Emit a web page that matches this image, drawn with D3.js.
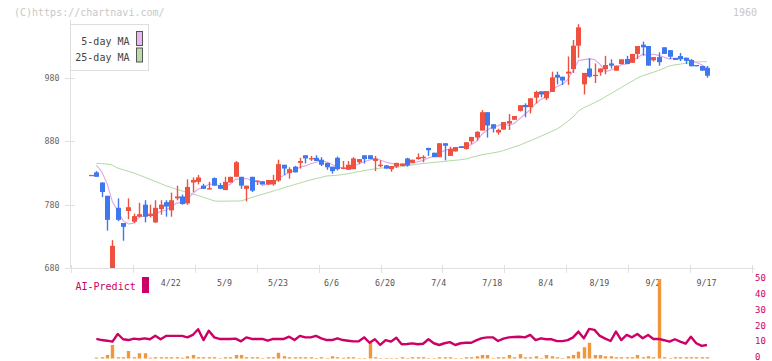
<!DOCTYPE html>
<html><head><meta charset="utf-8">
<script src="https://cdn.jsdelivr.net/npm/d3@7"></script>
<style>
body{margin:0;background:#fff;}
svg{display:block;}
text{font-family:"DejaVu Sans Mono",monospace;}
</style>
</head><body>
<svg id="c" width="772" height="361"></svg>
<script>
const dates = ["4/1","4/2","4/3","4/4","4/7","4/8","4/9","4/10","4/11","4/14","4/15","4/16","4/17","4/18","4/21","4/22","4/23","4/24","4/25","4/28","4/30",
"5/1","5/2","5/7","5/8","5/9","5/12","5/13","5/14","5/15","5/16","5/19","5/20","5/21","5/22","5/23","5/26","5/27","5/28","5/29","5/30",
"6/2","6/3","6/4","6/5","6/6","6/9","6/10","6/11","6/12","6/13","6/16","6/17","6/18","6/19","6/20","6/23","6/24","6/25","6/26","6/27","6/30",
"7/1","7/2","7/3","7/4","7/7","7/8","7/9","7/10","7/11","7/14","7/15","7/16","7/17","7/18","7/22","7/23","7/24","7/25","7/28","7/29","7/30","7/31",
"8/1","8/4","8/5","8/6","8/7","8/8","8/12","8/13","8/14","8/15","8/18","8/19","8/20","8/21","8/22","8/25","8/26","8/27","8/28","8/29",
"9/1","9/2","9/3","9/4","9/5","9/8","9/9","9/10","9/11","9/12","9/16","9/17"];

const openP = [827,831,815,794,680,775,751,770,753,761,780,762,752,773,784,771,790,793,782,815,816,810,804,822,811,803,815,824,824,805,824,816,817,812,812,818,843,830,840,846,858,852.6,854,851,846,840,854,837,835,836,847,858,858,849,842,842,836,840,841,853,846,852,854,869.5,862,855,877,857,864,872,868,880,886,897,926,907,894,898.5,908,914,928,937.5,934,949,959,948,958,985,982,987,994,1031,970,995,984,989,994,1003,991.5,1002,1010,1004,1018,1032.6,1030.5,1008,1013,1028.5,1024,1011.6,1014.7,1012,1008.4,1000.5,999,996];
const highP = [827,833,815,794,724,790,751,790,766,783,787,780,787,787,787,799,810,796,820,823,827,813,816,823,814,824,824,849,824,810,824,818,817,819,827,851,843,839,841,854,858,857,858,855,846,840,856,849,849,855,852,858,858,857,850,842.6,841,846,845,854,851,861,858,870,862,877,877,871.5,871,872,879,887,896,929.5,926,907,900,910.5,923,920,937,940,948,960,959,959.5,990,990,982,1014,1040,1065,988,1011,1003,995,1015,1009.5,999.5,1009.5,1015,1018,1030.5,1037.5,1030.5,1013,1020.6,1028.5,1024,1011.6,1019.5,1012,1010,1000.5,999,999];
const lowP = [827,824,792,739,680,754,723,757,751,760,752,760,751,764,761,761,787,780,780,800,812,805,804,810,805,803,815,824,805,785,800,811,812,811,810,816,827,821,831,837,845,849,849,841,835,829,834,836,835,836,844,845,852,833,839,837,832,838,841,840,846,851,847,857,855,855,850,857,864,869.5,867,876,881,897,886,894,890.5,898.5,898,914,927,918,924,940,949.5,945,958,970,969,969,988,1012,954,980.5,972,983.6,986,995,991.5,1001.6,1002,1004,1010,1015,999.5,1006,999.5,1018,1010,1008.4,1006.8,1002,998.5,998.5,991.6,980.5];
const closeP = [827,824,800,756,715,756,745,776,762,765,761,765,775,780,777,787,793,781,808,819,823,805,806,810,805,816,824,847,810,810,802,818,812,819,819,844,837,836,831,849,853,853.5,849,843,839,833,836,838.5,843,853,852,852,852,853,843,837,841,846,845,842,851,855,855.5,866,855,877,873,868,871,869.5,878.5,887,895,926,905,900,898,910.5,912,920,937,934,948,958,954,959.5,981,980.5,976,990,1031,1060,988,982,985,995,1000.5,999.5,999.5,1009.5,1002,1018,1030.5,1028.4,999.5,1013,1005,1018,1013.6,1008.4,1009.5,1007,998.5,998.5,991.6,983.6];

const ma5 = [null,842.6,832,813.7,784.4,770.2,754.4,749.6,750.8,760.8,761.8,765.8,765.6,769.2,771.6,776.8,782.4,783.6,789.2,797.6,804.8,807.2,812.2,812.6,809.8,808.4,812.2,820.4,820.4,821.4,818.6,817.4,810.4,812.2,814,822.4,826.2,831,833.4,839.4,841.2,844.5,847.1,849.5,847.5,843.5,840,837.9,837.9,840.7,844.5,847.7,850.4,852.4,850.4,847.4,845.2,844,842.4,842.2,845,847.8,849.7,853.9,856.5,861.7,865.3,867.8,868.8,871.7,872,874.8,880.2,891.2,898.3,902.6,904.8,907.9,905.1,908.1,915.5,922.7,930.2,939.4,946.2,950.7,960.1,966.6,970.2,977.4,991.7,1007.5,1009,1010.2,1009.2,1002,990.1,992.4,995.9,1000.8,1002.2,1005.7,1011.9,1017.7,1015.7,1017.9,1015.3,1012.8,1009.8,1011.6,1010.9,1011.3,1007.4,1004.4,1001,995.8];
const ma25 = [null,845.3,844.7,844.2,842.3,837.7,835.2,832.7,830,826.7,823.4,820,816.7,813.4,809.8,806.9,804.3,801.7,799.4,797,794.5,791.6,788.9,785.8,785.5,785.5,785.7,785.8,785.8,788.5,791.5,794,796.4,798.9,801.4,803.9,806.5,809.2,811.7,814.2,816.7,819.1,821.2,823.2,825.3,825.9,826.5,827.6,829,830.6,832.2,833.8,835.2,836.5,837.6,838.2,838.7,839.3,840,841.4,842.6,844,845,845.8,846.6,847.5,848.3,849.3,850,851,852.1,854.5,856.8,858.9,860.3,861.7,863.2,865.5,868.4,871.2,873.9,877.4,880.8,884.5,888.1,891.9,895.8,899.6,905,911.8,918.4,927.9,933.1,936.9,941,945.3,950.2,955.1,960.1,965,970.1,974.9,979.7,983.5,986.3,989.2,992,995.5,999.1,1000.7,1001.9,1003.4,1004.5,1005.4,1005.7,1005.7];

const volume = [0,0.6,0.8,2.2,8.5,0.8,0.8,4.7,0.8,3.3,3.3,0.5,0.8,0.8,0.8,0.8,0.8,0.5,1.4,2.2,0.8,0.8,0.8,0.8,0.3,0.8,0.8,2.2,2.2,0.8,0.8,0.8,0.3,0.8,0.8,3.6,1.4,0.8,0.8,0.8,0.8,0.8,0.3,0.8,0.3,1.4,0.8,0.5,0.8,0.8,0.3,0.3,9.9,0.8,0.3,0.3,0.3,0.3,0.8,0.3,0.8,0.8,0.8,0.3,0.3,0.8,0.8,0.8,0.3,0.3,0.8,0.8,1.4,2.2,2.2,0.3,0.8,0.8,2.2,0.8,2.8,0.8,0.8,1.4,0.3,2.2,1.4,0.8,0.3,1.4,2.2,4.3,7.1,9.9,2.2,2.2,1.4,1.4,0.8,0.8,0.8,0.8,2.2,0.8,1.4,0.8,50,0.8,0.3,0.8,0.8,0.8,0.8,0.8,0.8,0.8];
const aiPredict = [null,12.3,11.6,11.2,10.6,15.4,12.1,11.6,12.5,12.1,12.7,12.1,14.3,12.1,14.2,14.2,14.2,14.2,13.3,14.8,18.4,11.6,17.5,13.3,12.3,12.3,12.3,12.5,10.8,13.3,12.3,12.3,12.3,11.2,12.3,12.3,12.3,13.7,11.6,14.2,13.3,13.3,14.2,12.7,11.6,11.6,12.7,11.6,11.2,10.8,10.8,13.3,9.9,12.1,8.5,11.6,10.6,13.1,9.0,9.1,9.5,9.0,9.3,12.1,9.6,8.5,9.6,10.3,8.5,9.6,9.9,9.9,11.6,12.8,13.3,13.3,11.0,12.5,13.3,13.5,13.7,13.3,14.8,11.6,12.7,12.1,12.1,10.9,10.9,11.6,13.3,16.9,12.7,18.6,18.0,14.2,12.5,11.0,16.9,11.6,14.8,13.3,15.4,12.7,14.8,12.3,12.3,11.5,10.6,12.1,10.6,9.3,13.7,9.6,7.9,8.5];

const priceTicks = [680,780,880,980];
const dateTicks = ["4/22","5/9","5/23","6/6","6/20","7/4","7/18","8/4","8/19","9/2","9/17"];
const subTicks = [0,10,20,30,40,50];
const legendItems = [{label:"5-day MA", color:"#eab8ee"},{label:"25-day MA", color:"#b8dcae"}];

const RED = "#ef5140", BLUE = "#3f78ee", AXIS = "#e0e0e0";
const svg = d3.select("#c");
const x = d3.scaleLinear().domain([0, dates.length - 1]).range([91, 707]);
const y = d3.scaleLinear().domain([680, 980]).range([268, 78]);
const ySub = d3.scaleLinear().domain([0, 50]).range([358.5, 279]);
const frame = d3.scaleLinear().domain([0, 11]).range([70.7, 752.3]);

// header texts
svg.append("text").attr("x", 14).attr("y", 15.5).attr("font-size", 10).attr("fill", "#c8c8c8").text("(C)https://chartnavi.com/");
svg.append("text").attr("x", 757).attr("y", 15.5).attr("text-anchor", "end").attr("font-size", 10).attr("fill", "#c8c8c8").text("1960");

// axes
svg.append("line").attr("x1", 70.5).attr("x2", 70.5).attr("y1", 20).attr("y2", 268).attr("stroke", AXIS);
svg.append("line").attr("x1", 70).attr("x2", 755).attr("y1", 268.5).attr("y2", 268.5).attr("stroke", AXIS);
svg.selectAll(".xt").data(d3.range(0, 12)).join("line")
  .attr("x1", d => Math.round(frame(d)) + 0.5).attr("x2", d => Math.round(frame(d)) + 0.5)
  .attr("y1", 265).attr("y2", 273).attr("stroke", AXIS);
svg.selectAll(".yt").data(priceTicks).join("line")
  .attr("x1", 65).attr("x2", 75).attr("y1", d => Math.round(y(d)) + 0.5).attr("y2", d => Math.round(y(d)) + 0.5).attr("stroke", AXIS);
svg.selectAll(".yl").data(priceTicks).join("text")
  .attr("x", 59.5).attr("y", d => y(d) + 3).attr("text-anchor", "end").attr("font-size", 8.3).attr("fill", "#666").text(d => d);

// date labels
svg.selectAll(".xl").data(dateTicks).join("text")
  .attr("x", d => x(dates.indexOf(d)) - 0.5).attr("y", 285.5).attr("text-anchor", "middle")
  .attr("font-size", 8.3).attr("fill", "#555").text(d => d);

// clip for price panel
svg.append("clipPath").attr("id", "pc").append("rect").attr("x", 71).attr("y", 0).attr("width", 690).attr("height", 268);
const pg = svg.append("g").attr("clip-path", "url(#pc)");

// moving averages
const lineGen = d3.line().defined(d => d != null).x((d, i) => x(i)).y(d => y(d));
pg.append("path").datum(ma25).attr("d", lineGen).attr("fill", "none").attr("stroke", "#b2d9a4").attr("stroke-width", 1);
pg.append("path").datum(ma5).attr("d", lineGen).attr("fill", "none").attr("stroke", "#e0a4e8").attr("stroke-width", 1.1);

// candles
const idx = d3.range(dates.length);
const bw = 5;
pg.selectAll(".wick").data(idx).join("line")
  .attr("x1", i => Math.round(x(i)) + 0.5).attr("x2", i => Math.round(x(i)) + 0.5)
  .attr("y1", i => y(highP[i])).attr("y2", i => y(lowP[i]))
  .attr("stroke", i => closeP[i] >= openP[i] ? RED : BLUE).attr("stroke-width", 1.4);
pg.selectAll(".body").data(idx).join("rect")
  .attr("x", i => Math.round(x(i)) + 0.5 - bw / 2)
  .attr("width", bw)
  .attr("y", i => y(Math.max(openP[i], closeP[i])))
  .attr("height", i => Math.max(1.3, Math.abs(y(openP[i]) - y(closeP[i]))))
  .attr("fill", i => closeP[i] >= openP[i] ? RED : BLUE);

// legend
const lg = svg.append("g");
lg.append("rect").attr("x", 70.5).attr("y", 24.5).attr("width", 78).attr("height", 46).attr("fill", "#fff").attr("stroke", "#dedede");
legendItems.forEach((it, j) => {
  lg.append("text").attr("x", 129.5).attr("y", 44.5 + j * 16.5).attr("text-anchor", "end").attr("font-size", 10).attr("fill", "#444").text(it.label);
  lg.append("rect").attr("x", 136.5).attr("y", 31.5 + j * 16.5).attr("width", 6).attr("height", 14).attr("fill", it.color).attr("stroke", "#555");
});

// AI-Predict legend
svg.append("text").attr("x", 75.5).attr("y", 289.5).attr("font-size", 10).attr("fill", "#cc0066").text("AI-Predict");
svg.append("rect").attr("x", 142).attr("y", 277).attr("width", 7).attr("height", 16).attr("fill", "#cc0066");

// right axis labels
svg.selectAll(".rl").data(subTicks).join("text")
  .attr("x", 755).attr("y", d => ySub(d) + 1.8).attr("font-size", 9).attr("fill", "#cc0066").text(d => d);

// volume bars
svg.selectAll(".vol").data(idx.filter(i => volume[i] > 0)).join("rect")
  .attr("x", i => Math.round(x(i)) + 0.5 - 1.7).attr("width", 3.4)
  .attr("y", i => ySub(volume[i])).attr("height", i => ySub(0) - ySub(volume[i]))
  .attr("fill", "#f0963c");

// AI line
const aiLine = d3.line().defined(d => d != null).x((d, i) => x(i)).y(d => ySub(d));
svg.append("path").datum(aiPredict).attr("d", aiLine).attr("fill", "none").attr("stroke", "#cc0066").attr("stroke-width", 2.4).attr("stroke-linejoin", "round");
</script>
</body></html>
